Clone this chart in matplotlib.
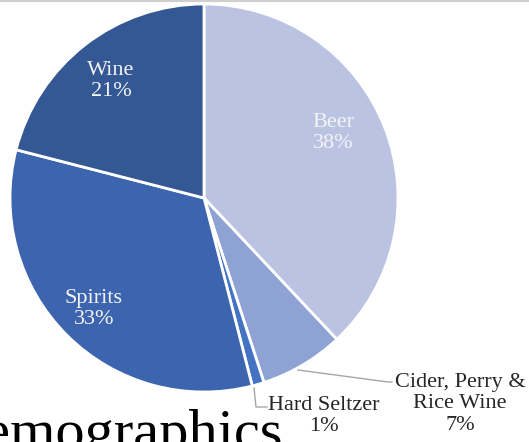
import matplotlib
matplotlib.use("Agg")
import matplotlib.pyplot as plt

# Share of alcohol category (percent)
categories = ["Beer", "Cider, Perry &\nRice Wine", "Hard Seltzer", "Spirits", "Wine"]
values = [38, 7, 1, 33, 21]
colors = ["#BAC4E2", "#8FA2D4", "#4573C4", "#3D65AF", "#335893"]

W, H = 529, 442
fig = plt.figure(figsize=(W / 100, H / 100), dpi=100)
ax = fig.add_axes([0, 0, 1, 1])

cx, cy, r = 204, H - 198, 194
ax.pie(values, colors=colors, startangle=90, counterclock=False,
       center=(cx, cy), radius=r, frame=True,
       wedgeprops=dict(edgecolor="white", linewidth=2))
ax.set_xlim(0, W)
ax.set_ylim(0, H)
ax.axis("off")

font = "Liberation Serif"
fs = 16

# labels inside the large slices
inside = {0: (333, 133), 3: (94, 309), 4: (111, 81)}
for i, (x, y) in inside.items():
    ax.text(x, H - y, f"{categories[i]}\n{values[i]}%", ha="center", va="center",
            color="#F4F4F4", fontsize=fs, family=font, linespacing=1.15)

# labels outside the small slices, with leader lines
outside = {1: (460, 404), 2: (324, 416)}
for i, (x, y) in outside.items():
    ax.text(x, H - y, f"{categories[i]}\n{values[i]}%", ha="center", va="center",
            color="#262626", fontsize=fs, family=font, linespacing=1.15)

lc = "#A6A6A6"
ax.plot([298, 388, 392], [H - 370, H - 382, H - 382], color=lc, lw=1)
ax.plot([254, 256, 267], [H - 388, H - 407, H - 407], color=lc, lw=1)

# slide elements around the chart
ax.axhline(H - 0.5, color="#CFCFCF", lw=1.5)
ax.text(283, H - 449, "Demographics", ha="right", va="baseline",
        fontsize=42, family=font, color="black")

fig.savefig("out.png", dpi=100)
